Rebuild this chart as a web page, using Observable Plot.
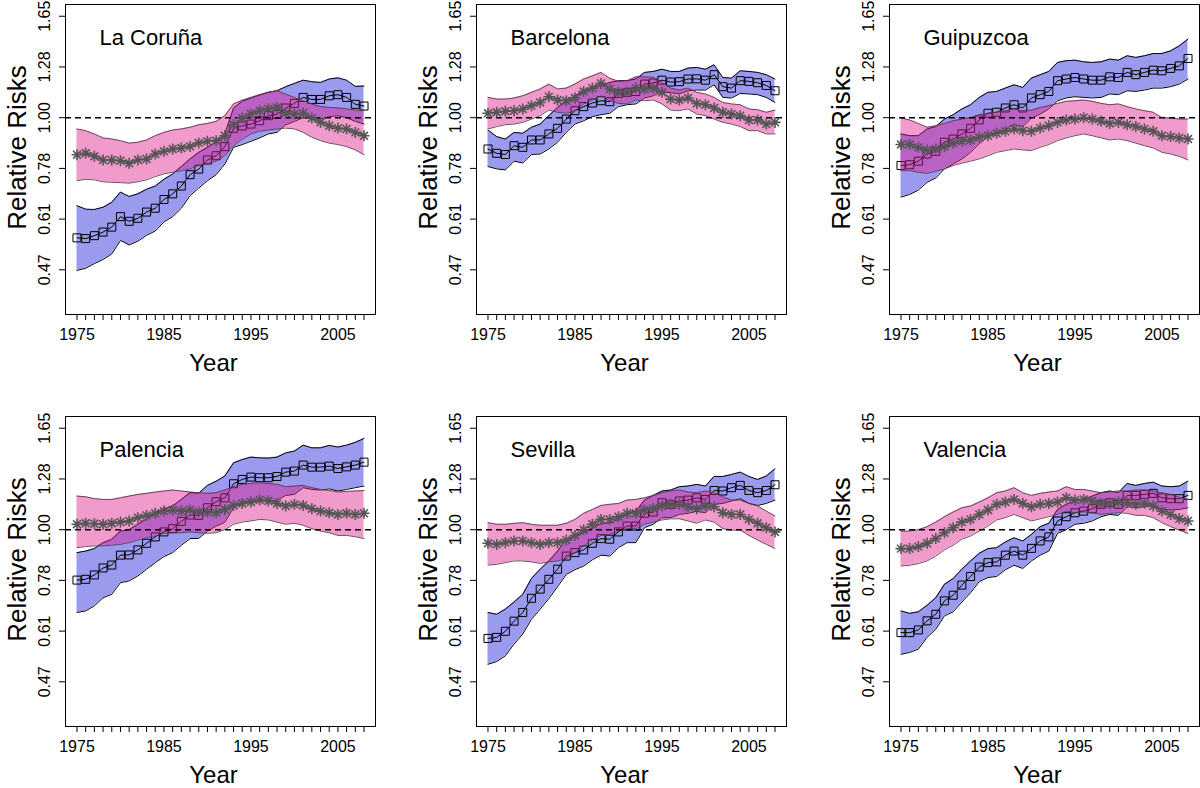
<!DOCTYPE html>
<html>
<head>
<meta charset="utf-8">
<script src="https://cdn.jsdelivr.net/npm/d3@7"></script>
<script src="https://cdn.jsdelivr.net/npm/@observablehq/plot@0.6"></script>
<style>
  html, body { margin: 0; padding: 0; background: #fff; }
  #wrap { position: relative; width: 1200px; height: 788px; overflow: hidden; background: #fff;
          font-family: "Liberation Sans", Arial, Helvetica, sans-serif; }
  #wrap svg { position: absolute; }
</style>
</head>
<body>
<div id="wrap"></div>
<script>
// ---------- categories / ticks ----------
const years = [1975,1976,1977,1978,1979,1980,1981,1982,1983,1984,1985,1986,1987,1988,1989,1990,1991,
               1992,1993,1994,1995,1996,1997,1998,1999,2000,2001,2002,2003,2004,2005,2006,2007,2008];
const labelYears = [1975, 1985, 1995, 2005];
const yTicks = [0.4724, 0.6065, 0.7788, 1.0, 1.2840, 1.6487];
const regionNames = ["La Coruña", "Barcelona", "Guipuzcoa", "Palencia", "Sevilla", "Valencia"];

// ---------- La Coruña ----------
const lcB   = [0.553,0.551,0.559,0.569,0.583,0.614,0.600,0.609,0.628,0.640,0.668,0.687,0.714,0.755,0.776,0.812,0.829,0.867,0.949,0.960,0.969,0.985,1.010,1.016,1.049,1.073,1.105,1.094,1.094,1.114,1.120,1.105,1.068,1.059];
const lcBhi = [0.648,0.637,0.636,0.643,0.659,0.693,0.678,0.687,0.703,0.714,0.738,0.758,0.786,0.816,0.843,0.864,0.886,0.923,1.049,1.084,1.102,1.118,1.133,1.142,1.165,1.184,1.203,1.194,1.190,1.210,1.217,1.203,1.167,1.169];
const lcBlo = [0.471,0.476,0.487,0.497,0.511,0.546,0.534,0.544,0.560,0.572,0.598,0.614,0.640,0.681,0.707,0.733,0.755,0.796,0.864,0.876,0.890,0.905,0.923,0.930,0.966,0.982,1.000,0.993,0.993,1.005,1.010,1.000,0.982,0.969];
const lcS   = [0.833,0.839,0.827,0.812,0.812,0.809,0.799,0.812,0.816,0.836,0.847,0.857,0.861,0.868,0.883,0.890,0.893,0.915,0.966,0.998,1.018,1.035,1.044,1.052,1.022,1.018,1.022,0.998,0.977,0.961,0.950,0.946,0.930,0.915];
const lcShi = [0.946,0.938,0.923,0.905,0.900,0.893,0.882,0.886,0.896,0.915,0.930,0.941,0.946,0.954,0.966,0.972,0.982,1.010,1.070,1.090,1.105,1.120,1.133,1.142,1.123,1.105,1.087,1.070,1.056,1.052,1.049,1.044,1.038,1.035];
const lcSlo = [0.733,0.738,0.736,0.729,0.727,0.726,0.724,0.729,0.736,0.748,0.758,0.764,0.770,0.777,0.790,0.796,0.807,0.829,0.871,0.900,0.923,0.935,0.941,0.946,0.950,0.946,0.930,0.908,0.893,0.882,0.876,0.867,0.853,0.833];

// ---------- Barcelona ----------
const bcB   = [0.857,0.839,0.834,0.871,0.864,0.896,0.896,0.923,0.949,0.993,1.035,1.056,1.075,1.087,1.082,1.127,1.133,1.138,1.180,1.186,1.203,1.192,1.194,1.210,1.211,1.203,1.236,1.165,1.157,1.200,1.196,1.188,1.172,1.142];
const bcBhi = [0.941,0.911,0.900,0.930,0.926,0.954,0.969,1.010,1.052,1.087,1.114,1.142,1.157,1.170,1.190,1.200,1.200,1.210,1.250,1.256,1.270,1.256,1.256,1.277,1.281,1.270,1.298,1.219,1.215,1.260,1.256,1.250,1.236,1.210];
const bcBlo = [0.786,0.777,0.773,0.807,0.800,0.834,0.836,0.857,0.886,0.930,0.969,0.985,1.005,1.015,1.022,1.056,1.066,1.070,1.102,1.114,1.138,1.131,1.124,1.142,1.146,1.146,1.176,1.105,1.102,1.127,1.124,1.120,1.105,1.078];
const bcS   = [1.022,1.027,1.032,1.035,1.044,1.061,1.078,1.109,1.091,1.087,1.102,1.138,1.157,1.184,1.152,1.133,1.133,1.157,1.152,1.157,1.133,1.096,1.091,1.102,1.073,1.066,1.049,1.027,1.018,1.010,0.989,0.989,0.969,0.977];
const bcShi = [1.105,1.096,1.096,1.102,1.114,1.133,1.152,1.180,1.152,1.157,1.180,1.210,1.229,1.250,1.215,1.196,1.200,1.223,1.223,1.220,1.190,1.157,1.146,1.157,1.133,1.124,1.105,1.078,1.070,1.066,1.044,1.040,1.027,1.038];
const bcSlo = [0.946,0.957,0.966,0.969,0.977,0.993,1.010,1.038,1.027,1.022,1.035,1.070,1.091,1.114,1.087,1.073,1.070,1.091,1.087,1.091,1.070,1.038,1.035,1.044,1.018,1.010,0.993,0.977,0.969,0.957,0.938,0.938,0.923,0.923];

// ---------- Guipuzcoa ----------
const gpB   = [0.790,0.793,0.807,0.836,0.847,0.886,0.900,0.923,0.949,0.989,1.022,1.027,1.049,1.066,1.049,1.102,1.120,1.138,1.200,1.210,1.219,1.210,1.203,1.203,1.223,1.219,1.250,1.236,1.250,1.264,1.260,1.275,1.291,1.339];
const gpBhi = [0.923,0.915,0.915,0.946,0.957,0.993,1.015,1.044,1.066,1.105,1.133,1.138,1.157,1.176,1.161,1.216,1.236,1.256,1.313,1.324,1.328,1.317,1.313,1.317,1.335,1.328,1.357,1.346,1.357,1.372,1.372,1.390,1.425,1.473];
const gpBlo = [0.676,0.685,0.700,0.727,0.743,0.777,0.796,0.816,0.843,0.879,0.911,0.926,0.946,0.966,0.957,0.998,1.018,1.044,1.087,1.102,1.109,1.105,1.102,1.105,1.124,1.120,1.142,1.138,1.146,1.157,1.157,1.165,1.180,1.210];
const gpS   = [0.876,0.876,0.864,0.853,0.857,0.867,0.882,0.890,0.896,0.908,0.915,0.926,0.935,0.946,0.938,0.935,0.950,0.961,0.977,0.989,0.993,1.000,0.993,0.982,0.972,0.977,0.966,0.957,0.946,0.935,0.915,0.911,0.905,0.900];
const gpShi = [0.998,0.989,0.972,0.954,0.961,0.972,0.985,0.993,1.000,1.015,1.022,1.027,1.035,1.044,1.035,1.038,1.052,1.061,1.073,1.084,1.087,1.091,1.084,1.073,1.066,1.070,1.056,1.044,1.035,1.027,1.000,0.998,0.993,0.993];
const gpSlo = [0.770,0.770,0.764,0.760,0.768,0.777,0.790,0.799,0.807,0.816,0.829,0.843,0.850,0.857,0.853,0.850,0.864,0.876,0.893,0.905,0.915,0.923,0.915,0.905,0.896,0.900,0.893,0.882,0.871,0.861,0.843,0.836,0.826,0.812];

// ---------- Palencia ----------
const plB   = [0.780,0.783,0.800,0.828,0.840,0.882,0.883,0.905,0.935,0.965,0.989,1.005,1.042,1.075,1.073,1.114,1.148,1.170,1.254,1.281,1.296,1.292,1.292,1.300,1.328,1.335,1.375,1.361,1.361,1.368,1.352,1.363,1.375,1.395];
const plBhi = [0.893,0.900,0.911,0.938,0.954,0.993,1.000,1.027,1.055,1.087,1.109,1.124,1.161,1.200,1.197,1.244,1.270,1.303,1.390,1.413,1.430,1.425,1.423,1.430,1.460,1.473,1.517,1.497,1.497,1.515,1.503,1.517,1.538,1.568];
const plBlo = [0.665,0.670,0.687,0.715,0.727,0.770,0.777,0.796,0.823,0.850,0.876,0.893,0.926,0.957,0.958,0.993,1.018,1.038,1.114,1.142,1.152,1.152,1.152,1.157,1.184,1.190,1.230,1.219,1.216,1.223,1.210,1.219,1.230,1.240];
const plS   = [1.027,1.032,1.030,1.027,1.032,1.038,1.044,1.061,1.073,1.084,1.096,1.102,1.096,1.102,1.091,1.091,1.087,1.105,1.127,1.138,1.146,1.157,1.152,1.138,1.124,1.133,1.127,1.109,1.096,1.087,1.078,1.084,1.078,1.084];
const plShi = [1.180,1.176,1.165,1.161,1.161,1.170,1.180,1.190,1.196,1.204,1.210,1.216,1.210,1.204,1.200,1.196,1.200,1.216,1.236,1.250,1.256,1.260,1.256,1.250,1.236,1.240,1.244,1.230,1.219,1.213,1.204,1.207,1.210,1.213];
const plSlo = [0.915,0.920,0.923,0.923,0.926,0.930,0.938,0.950,0.961,0.969,0.982,0.985,0.985,0.989,0.985,0.982,0.985,1.000,1.027,1.038,1.044,1.052,1.049,1.038,1.027,1.032,1.022,1.005,0.993,0.985,0.972,0.972,0.966,0.957];

// ---------- Sevilla ----------
const svB   = [0.585,0.588,0.606,0.637,0.665,0.713,0.746,0.783,0.823,0.878,0.893,0.905,0.935,0.957,0.954,0.989,1.018,1.018,1.084,1.091,1.142,1.133,1.152,1.157,1.170,1.161,1.213,1.210,1.230,1.244,1.213,1.200,1.213,1.248];
const svBhi = [0.665,0.659,0.676,0.700,0.727,0.786,0.823,0.857,0.900,0.954,0.969,0.985,1.010,1.032,1.035,1.052,1.087,1.096,1.157,1.184,1.210,1.216,1.236,1.240,1.250,1.240,1.300,1.300,1.313,1.328,1.300,1.281,1.303,1.350];
const svBlo = [0.515,0.522,0.537,0.569,0.598,0.643,0.676,0.712,0.755,0.802,0.821,0.836,0.862,0.882,0.878,0.915,0.938,0.938,1.010,1.027,1.061,1.061,1.078,1.084,1.096,1.087,1.133,1.138,1.152,1.165,1.138,1.127,1.138,1.157];
const svS   = [0.935,0.930,0.938,0.946,0.946,0.938,0.930,0.938,0.938,0.950,0.972,1.000,1.027,1.052,1.052,1.066,1.084,1.084,1.102,1.111,1.124,1.133,1.133,1.120,1.109,1.127,1.120,1.087,1.078,1.078,1.052,1.032,1.010,0.989];
const svShi = [1.035,1.027,1.027,1.032,1.035,1.027,1.022,1.022,1.022,1.032,1.052,1.084,1.105,1.127,1.133,1.138,1.157,1.161,1.170,1.184,1.200,1.210,1.216,1.204,1.200,1.210,1.200,1.176,1.157,1.157,1.138,1.124,1.096,1.070];
const svSlo = [0.840,0.843,0.850,0.857,0.857,0.853,0.847,0.853,0.857,0.867,0.893,0.923,0.950,0.972,0.977,0.993,1.005,1.005,1.027,1.038,1.049,1.055,1.055,1.044,1.032,1.049,1.038,1.005,0.998,0.998,0.972,0.950,0.930,0.911];

// ---------- Valencia ----------
const vlB   = [0.602,0.602,0.610,0.638,0.659,0.704,0.724,0.761,0.794,0.832,0.850,0.853,0.882,0.900,0.882,0.912,0.946,0.965,1.044,1.066,1.087,1.096,1.109,1.133,1.142,1.133,1.184,1.184,1.190,1.196,1.170,1.165,1.165,1.184];
const vlBhi = [0.670,0.662,0.667,0.689,0.715,0.764,0.786,0.823,0.857,0.890,0.911,0.915,0.941,0.961,0.946,0.977,1.015,1.032,1.105,1.133,1.152,1.161,1.180,1.200,1.210,1.200,1.256,1.244,1.256,1.264,1.240,1.236,1.240,1.270];
const vlBlo = [0.541,0.546,0.555,0.588,0.612,0.654,0.667,0.700,0.733,0.774,0.790,0.794,0.821,0.839,0.826,0.857,0.882,0.900,0.982,1.000,1.027,1.032,1.044,1.066,1.078,1.073,1.120,1.114,1.120,1.127,1.105,1.102,1.105,1.114];
const vlS   = [0.911,0.911,0.920,0.935,0.957,0.985,1.010,1.038,1.052,1.078,1.102,1.133,1.146,1.161,1.138,1.120,1.133,1.138,1.146,1.170,1.157,1.161,1.152,1.138,1.138,1.146,1.142,1.133,1.138,1.124,1.096,1.078,1.055,1.044];
const vlShi = [0.993,0.993,1.000,1.015,1.038,1.066,1.091,1.114,1.124,1.146,1.170,1.200,1.210,1.230,1.200,1.184,1.196,1.204,1.210,1.236,1.219,1.219,1.210,1.200,1.204,1.210,1.210,1.216,1.216,1.210,1.200,1.190,1.174,1.161];
const vlSlo = [0.836,0.839,0.846,0.857,0.878,0.905,0.926,0.954,0.969,0.993,1.018,1.049,1.061,1.078,1.061,1.044,1.055,1.066,1.078,1.096,1.087,1.091,1.087,1.078,1.084,1.087,1.084,1.073,1.073,1.061,1.035,1.015,0.998,0.981];

// ---------- assemble (per-panel series) ----------
const panelSeries = [
  [lcB, lcBlo, lcBhi, lcS, lcSlo, lcShi],
  [bcB, bcBlo, bcBhi, bcS, bcSlo, bcShi],
  [gpB, gpBlo, gpBhi, gpS, gpSlo, gpShi],
  [plB, plBlo, plBhi, plS, plSlo, plShi],
  [svB, svBlo, svBhi, svS, svSlo, svShi],
  [vlB, vlBlo, vlBhi, vlS, vlSlo, vlShi]
];

// ---------- styling ----------
const blueFill = "#9a9aef";
const pinkFill = "#e0208f";
const pinkOpacity = 0.45;
const starColor = "#555555";
const fontFamily = "'Liberation Sans', Arial, Helvetica, sans-serif";
const frameLeft = [65, 76, 89];

// custom symbols: open square and 8-armed asterisk (R pch 0 and pch 8)
const squareSym = { draw(ctx, size) { const r = Math.sqrt(size / Math.PI); ctx.rect(-r, -r, 2 * r, 2 * r); } };
const starSym = { draw(ctx, size) {
  const r = Math.sqrt(size / Math.PI), d = r * Math.SQRT1_2;
  ctx.moveTo(-r, 0); ctx.lineTo(r, 0); ctx.moveTo(0, -r); ctx.lineTo(0, r);
  ctx.moveTo(-d, -d); ctx.lineTo(d, d); ctx.moveTo(-d, d); ctx.lineTo(d, -d);
} };

const wrap = document.getElementById("wrap");

panelSeries.forEach((ser, k) => {
  const [b, bLo, bHi, s, sLo, sHi] = ser;
  const rows = years.map((year, i) => ({year, b: b[i], bLo: bLo[i], bHi: bHi[i], s: s[i], sLo: sLo[i], sHi: sHi[i]}));
  const col = k % 3, row = Math.floor(k / 3);
  const ml = frameLeft[col];
  const svg = Plot.plot({
    width: 400, height: 376,
    marginLeft: ml, marginRight: 400 - ml - 310, marginTop: 4, marginBottom: 62,
    style: {fontFamily, fontSize: "16px", background: "white", color: "black", overflow: "visible"},
    x: {domain: [1973.68, 2009.32]},
    y: {type: "log", domain: [0.379, 1.747]},
    marks: [
      // blue band + squares series
      Plot.areaY(rows, {x: "year", y1: "bLo", y2: "bHi", fill: blueFill, curve: "linear"}),
      Plot.lineY(rows, {x: "year", y: "bHi", stroke: "black", strokeWidth: 1}),
      Plot.lineY(rows, {x: "year", y: "bLo", stroke: "black", strokeWidth: 1}),
      Plot.lineY(rows, {x: "year", y: "b", stroke: "black", strokeWidth: 1}),
      Plot.dot(rows, {x: "year", y: "b", symbol: squareSym, r: 4, stroke: "black", fill: "none", strokeWidth: 1}),
      // pink band (translucent)
      Plot.areaY(rows, {x: "year", y1: "sLo", y2: "sHi", fill: pinkFill, fillOpacity: pinkOpacity, curve: "linear"}),
      Plot.lineY(rows, {x: "year", y: "sHi", stroke: "#5a3a50", strokeWidth: 0.9}),
      Plot.lineY(rows, {x: "year", y: "sLo", stroke: "#5a3a50", strokeWidth: 0.9}),
      // reference line RR = 1
      Plot.ruleY([1], {stroke: "black", strokeWidth: 1.6, strokeDasharray: "6,4"}),
      // star series
      Plot.lineY(rows, {x: "year", y: "s", stroke: starColor, strokeWidth: 1.3}),
      Plot.dot(rows, {x: "year", y: "s", symbol: starSym, r: 5.5, stroke: starColor, strokeWidth: 1.6, fill: "none"}),
      // frame & axes
      Plot.frame({stroke: "black", strokeWidth: 1}),
      Plot.axisX({ticks: years, tickSize: 6, tickPadding: 8, label: null, fontSize: 16,
                  tickFormat: d => labelYears.includes(d) ? String(d) : ""}),
      Plot.axisY({ticks: yTicks, tickSize: 6, tickPadding: 10, tickRotate: -90, label: null, fontSize: 16,
                  tickFormat: d3.format(".2f")}),
      // titles
      Plot.text([regionNames[k]], {frameAnchor: "top-left", dx: 34, dy: 40, textAnchor: "start",
                  lineAnchor: "bottom", fontSize: 22, fill: "black"}),
      Plot.text(["Year"], {frameAnchor: "bottom", dx: -7, dy: 56, textAnchor: "middle",
                  lineAnchor: "bottom", fontSize: 24, fill: "black"}),
      Plot.text(["Relative Risks"], {frameAnchor: "left", dx: -48, dy: -12, rotate: -90, textAnchor: "middle",
                  lineAnchor: "middle", fontSize: 26, fill: "black"})
    ]
  });
  svg.style.left = (col * 400) + "px";
  svg.style.top = (row * 412) + "px";
  wrap.appendChild(svg);
});
</script>
</body>
</html>
